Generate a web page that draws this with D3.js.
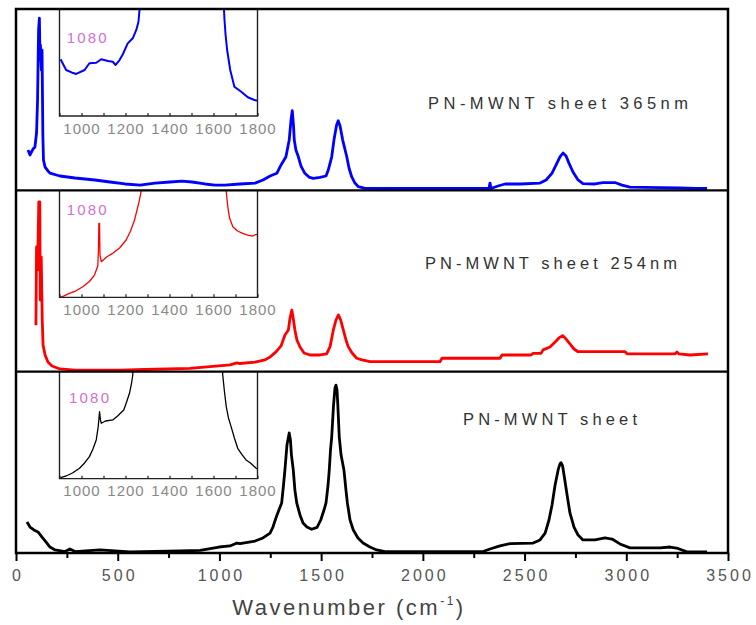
<!DOCTYPE html>
<html><head><meta charset="utf-8">
<script src="https://cdn.jsdelivr.net/npm/d3@7"></script>
<style>html,body{margin:0;padding:0;background:#fff}svg{display:block}</style>
</head><body>
<script>
// ---------- DATA ----------
const xMajorTicks = [0,500,1000,1500,2000,2500,3000,3500];
const xMinorTicks = [250,750,1250,1750,2250,2750,3250];
const insetTicks = [900,1000,1100,1200,1300,1400,1500,1600,1700,1800];
const insetLabels = [1000,1200,1400,1600,1800];
const panelLabels = ["PN-MWNT sheet 365nm","PN-MWNT sheet 254nm","PN-MWNT sheet"];
const insetNote = "1080";
const xTitle = "Wavenumber (cm";

// [wavenumber, intensity (a.u.)]
const blueMain = [[59,22.2],[69,19.5],[84,22.8],[93,23.9],[101,31.6],[106,49.8],[111,88.4],[115,95.0],[118,71.9],[120,80.1],[125,66.3],[128,77.3],[132,30.5],[135,16.7],[143,12.8],[157,10.7],[167,9.5],[216,7.9],[290,6.8],[388,5.7],[462,4.6],[536,3.5],[610,2.9],[683,4.0],[757,4.6],[816,5.1],[865,4.6],[929,3.5],[978,2.9],[1027,2.9],[1101,3.5],[1175,4.0],[1214,5.7],[1249,7.9],[1282,9.4],[1303,14.0],[1327,18.5],[1343,27.7],[1352,38.8],[1358,43.9],[1364,36.0],[1368,27.7],[1376,22.2],[1388,18.5],[1401,13.4],[1420,9.4],[1440,7.3],[1461,6.6],[1494,7.1],[1524,7.9],[1535,11.2],[1552,18.5],[1563,27.7],[1576,36.0],[1584,38.4],[1593,35.5],[1606,27.7],[1626,18.5],[1637,12.3],[1650,7.5],[1666,4.0],[1683,2.0],[1716,1.1],[1888,1.0],[2133,1.0],[2325,1.0],[2330,4.0],[2335,1.0],[2369,2.4],[2404,3.5],[2478,3.5],[2576,4.0],[2606,5.7],[2635,9.5],[2655,14.0],[2674,18.4],[2689,20.6],[2704,18.9],[2718,15.0],[2738,10.1],[2763,5.7],[2787,3.7],[2846,3.5],[2885,4.3],[2944,4.3],[2979,2.9],[3018,1.8],[3166,1.5],[3264,1.3],[3338,1.0],[3397,1.0]];

const redMain = [[98,25.6],[101,68.8],[106,56.1],[112,93.6],[117,93.6],[119,39.5],[124,63.3],[129,28.5],[133,14.7],[143,9.2],[157,5.3],[177,3.1],[216,1.5],[290,0.9],[511,0.9],[634,1.2],[855,1.8],[1052,3.7],[1086,4.8],[1101,4.5],[1175,5.3],[1224,6.5],[1249,8.1],[1278,10.9],[1303,14.2],[1322,20.2],[1339,23.0],[1347,29.6],[1356,34.0],[1364,28.5],[1371,23.0],[1381,17.5],[1396,13.6],[1416,10.3],[1445,9.2],[1494,9.2],[1527,9.8],[1544,13.8],[1560,23.0],[1573,28.5],[1585,31.3],[1596,28.5],[1609,23.0],[1622,17.5],[1633,13.8],[1652,10.3],[1675,7.4],[1701,6.5],[1740,5.5],[2084,5.5],[2094,7.4],[2379,7.4],[2389,9.2],[2532,9.2],[2542,10.1],[2581,10.1],[2591,12.0],[2625,13.6],[2655,16.9],[2669,18.6],[2687,19.9],[2704,18.0],[2723,15.3],[2743,12.5],[2763,11.0],[2994,11.0],[3004,9.8],[3239,9.8],[3249,10.9],[3259,9.8],[3313,9.2],[3402,9.8]];

const blackMain = [[54,17.1],[69,14.3],[88,12.7],[108,11.6],[128,8.8],[147,6.1],[167,3.3],[192,1.7],[241,0.8],[265,2.2],[290,0.8],[413,1.7],[560,0.6],[806,1.1],[905,1.4],[998,3.3],[1052,3.9],[1086,5.5],[1101,5.2],[1175,6.6],[1214,8.3],[1249,11.0],[1263,14.3],[1283,21.0],[1306,27.6],[1315,37.5],[1322,45.8],[1332,59.6],[1343,66.2],[1349,62.3],[1354,54.0],[1363,45.8],[1371,34.7],[1380,27.6],[1396,21.0],[1411,16.5],[1430,14.3],[1453,13.1],[1480,14.1],[1498,18.2],[1514,23.7],[1524,27.6],[1534,37.5],[1540,45.8],[1546,56.8],[1552,64.1],[1561,81.6],[1568,91.0],[1573,92.6],[1578,89.9],[1582,81.6],[1589,64.1],[1598,54.0],[1612,45.8],[1622,34.7],[1629,27.6],[1642,18.2],[1658,12.7],[1681,8.3],[1706,5.5],[1740,3.3],[1773,1.7],[1814,0.8],[2084,0.8],[2296,0.8],[2330,2.2],[2379,3.9],[2429,5.2],[2542,5.5],[2576,7.2],[2601,11.0],[2620,18.2],[2635,26.5],[2650,37.5],[2665,45.8],[2674,49.1],[2679,49.8],[2687,48.0],[2694,43.0],[2709,32.0],[2723,22.1],[2743,14.3],[2763,9.9],[2787,7.2],[2846,7.2],[2895,8.3],[2930,7.7],[2969,5.0],[3018,2.8],[3166,2.8],[3215,3.3],[3254,2.5],[3298,0.6],[3397,0.6]];

const blueInset = [[905,53.0],[930,43.0],[955,40.7],[976,39.3],[1014,43.0],[1036,49.3],[1067,49.8],[1090,53.0],[1120,51.4],[1142,50.7],[1155,47.7],[1173,52.3],[1188,57.7],[1210,67.9],[1233,72.6],[1249,80.4],[1259,88.1],[1264,100],[1268,110],[1645,110],[1650,89.7],[1655,75.7],[1662,61.7],[1676,43.0],[1695,27.4],[1726,22.7],[1756,17.5],[1786,15.0],[1800,14.3]];

const redInset = [[905,0.3],[918,1.2],[945,3.7],[973,5.9],[1006,9.9],[1036,14.8],[1059,20.8],[1074,29.3],[1077,44.2],[1079,69.2],[1082,69.2],[1084,39.5],[1090,33.3],[1114,37.7],[1142,41.1],[1173,46.1],[1203,53.6],[1223,62.0],[1241,72.2],[1260,87.9],[1271,98.7],[1275,110],[1652,110],[1658,98.7],[1665,84.7],[1673,74.1],[1688,66.0],[1709,62.0],[1733,59.8],[1755,58.2],[1779,57.3],[1791,58.7],[1800,58.9]];

const blackInset = [[900,0.4],[909,1.1],[930,2.5],[959,5.3],[991,9.7],[1014,14.7],[1036,20.6],[1052,27.8],[1067,36.2],[1076,48.6],[1082,62.6],[1086,54.9],[1090,51.8],[1109,53.9],[1142,54.9],[1164,58.6],[1192,64.2],[1205,71.7],[1218,79.8],[1227,88.5],[1233,96.9],[1236,110],[1639,110],[1642,96.9],[1650,81.0],[1658,67.3],[1668,56.7],[1680,48.6],[1695,38.0],[1710,28.4],[1727,23.1],[1748,17.5],[1768,14.7],[1794,9.7],[1800,9.1]];

const mainSeries = [blueMain, redMain, blackMain];
const insetSeries = [blueInset, redInset, blackInset];
const colors = ["#0000ff","#ff0000","#000000"];

// ---------- LAYOUT ----------
const W = 756, H = 625;
const L = 16, R = 728, T = 9, B = 553;
const panelH = (B - T) / 3;
const insetL = 59.5, insetR = 257.5, insetH = 107;
const FONT = "'Liberation Sans', Arial, Helvetica, sans-serif";

const svg = d3.select("body").append("svg").attr("width", W).attr("height", H);
const x = d3.scaleLinear().domain([0, 3500]).range([L, R]);
const xi = d3.scaleLinear().domain([900, 1800]).range([insetL, insetR]);

const labelPos = [
  {x: 428, y: 109, w: 260},
  {x: 425, y: 269, w: 252},
  {x: 463, y: 425, w: 174}
];
const noteY = [42.7, 215, 402.7];
const noteX = [66.7, 66.7, 69];

const defs = svg.append("defs");

mainSeries.forEach((data, i) => {
  const top = T + i * panelH, bot = top + panelH;
  const y = d3.scaleLinear().domain([0, 100]).range([bot, top]);
  const line = d3.line().x(d => x(d[0])).y(d => y(d[1]));
  svg.append("path").datum(data).attr("d", line)
    .attr("fill", "none").attr("stroke", colors[i])
    .attr("stroke-width", 2.8).attr("stroke-linejoin", "round");

  // inset
  const iy = d3.scaleLinear().domain([0, 100]).range([top + insetH, top]);
  defs.append("clipPath").attr("id", "clip" + i)
    .append("rect").attr("x", insetL).attr("y", top).attr("width", insetR - insetL).attr("height", insetH);
  const iline = d3.line().x(d => xi(d[0])).y(d => iy(d[1]));
  svg.append("path").datum(insetSeries[i]).attr("d", iline)
    .attr("clip-path", "url(#clip" + i + ")")
    .attr("fill", "none").attr("stroke", colors[i])
    .attr("stroke-width", i === 0 ? 2 : 1.3).attr("stroke-linejoin", "round");

  // inset frame
  svg.append("path")
    .attr("d", `M${insetL},${top}V${top + insetH}H${insetR}V${top}`)
    .attr("fill", "none").attr("stroke", "#222").attr("stroke-width", 1.4);

  const ia = d3.axisBottom(xi).tickValues(insetTicks).tickSize(-3).tickPadding(7)
    .tickFormat(d => insetLabels.includes(d) ? d : "");
  const ig = svg.append("g").attr("transform", `translate(0,${top + insetH})`).call(ia);
  ig.select(".domain").remove();
  ig.selectAll("line").attr("stroke", "#222").attr("stroke-width", 1.2);
  ig.selectAll("text").attr("fill", "#888").attr("font-family", FONT)
    .attr("font-size", 15).style("letter-spacing", "1px");

  // 1080 note
  svg.append("text").attr("x", noteX[i]).attr("y", noteY[i]).text(insetNote)
    .attr("fill", "#d070d0").attr("font-family", FONT).attr("font-size", 15)
    .attr("textLength", 40).attr("lengthAdjust", "spacing");

  // panel label
  svg.append("text").attr("x", labelPos[i].x).attr("y", labelPos[i].y).text(panelLabels[i])
    .attr("fill", "#333").attr("font-family", FONT).attr("font-size", 16.5)
    .attr("textLength", labelPos[i].w).attr("lengthAdjust", "spacing");

  if (i > 0) {
    svg.append("line").attr("x1", L).attr("x2", R).attr("y1", top).attr("y2", top)
      .attr("stroke", "#000").attr("stroke-width", 2.2);
  }
});

// frame
svg.append("rect").attr("x", L).attr("y", T).attr("width", R - L).attr("height", B - T)
  .attr("fill", "none").attr("stroke", "#000").attr("stroke-width", 2.5);

// x axis
const ax = d3.axisBottom(x).tickValues(xMajorTicks).tickSize(8).tickPadding(9).tickFormat(d3.format("d"));
const g = svg.append("g").attr("transform", `translate(0,${B})`).call(ax);
g.select(".domain").remove();
g.selectAll("line").attr("stroke", "#000").attr("stroke-width", 2);
g.selectAll("text").attr("fill", "#555").attr("font-family", FONT).attr("font-size", 16)
  .style("letter-spacing", "3px").attr("dx", "1.5px");
const axm = d3.axisBottom(x).tickValues(xMinorTicks).tickSize(5).tickFormat("");
const gm = svg.append("g").attr("transform", `translate(0,${B})`).call(axm);
gm.select(".domain").remove();
gm.selectAll("line").attr("stroke", "#000").attr("stroke-width", 2);

// title
const tt = svg.append("text").attr("x", 349).attr("y", 615).attr("text-anchor", "middle")
  .attr("fill", "#444").attr("font-family", FONT).attr("font-size", 22)
  .style("letter-spacing", "2.5px");
tt.append("tspan").text(xTitle);
tt.append("tspan").text("-1").attr("font-size", 12).attr("dy", -10);
tt.append("tspan").text(")").attr("dy", 10);
</script>
</body></html>
